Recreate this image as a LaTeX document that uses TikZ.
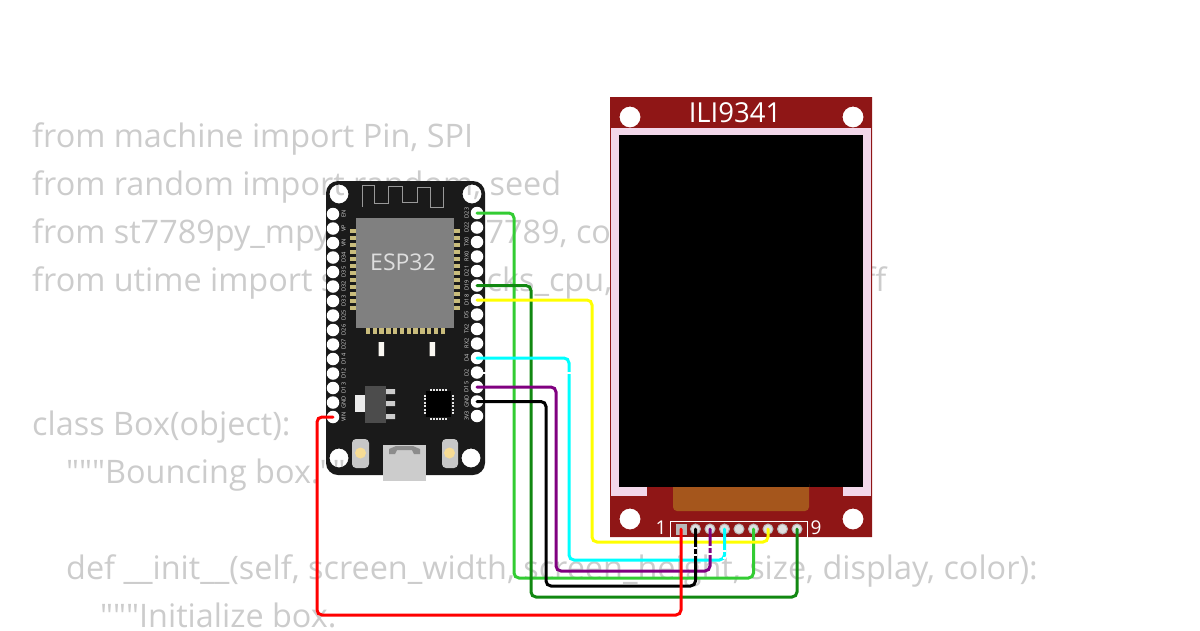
\documentclass[tikz,border=0pt]{standalone}
\usepackage{fontspec}
\setmainfont{Open Sans}
\newfontfamily\codefont{Open Sans}
\definecolor{codegray}{HTML}{CCCCCC}
\definecolor{boardblack}{HTML}{1A1A1A}
\definecolor{modgray}{HTML}{808080}
\definecolor{padgold}{HTML}{C9BC7C}
\definecolor{lcdred}{HTML}{8F1616}
\definecolor{lcdpink}{HTML}{F2D7EA}
\definecolor{flexorange}{HTML}{A5561C}
\definecolor{wiregreen}{HTML}{33CC33}
\definecolor{wiredark}{HTML}{118811}
\definecolor{wirepurple}{HTML}{800080}
\definecolor{wirecyan}{HTML}{00FFFF}
\definecolor{wireyellow}{HTML}{FFFF00}
\definecolor{wirered}{HTML}{FF0000}
\definecolor{btncream}{HTML}{F7DC95}
\tikzset{
  codeline/.style={anchor=base west,inner sep=0pt,text=codegray,font=\codefont\fontsize{32.4}{32.4}\selectfont},
  espin/.style={circle,fill=white,inner sep=0pt,minimum size=12.5pt},
  esplabel/.style={rotate=90,inner sep=0pt,text=white!85!black,font=\fontsize{5.6}{5.6}\selectfont},
  lcdpin/.style={circle,fill=white!88!black,draw=white!72!black,line width=1pt,inner sep=0pt,minimum size=10pt},
  wire/.style={line width=3pt,rounded corners=5pt,line cap=round},
  wiregap/.style={white,line width=3.2pt,dash pattern=on 1.5pt off 5.5pt},
  padv/.style={fill=padgold,minimum width=6pt,minimum height=4.4pt,inner sep=0pt},
  padh/.style={fill=padgold,minimum width=4.4pt,minimum height=6pt,inner sep=0pt},
  qfnpad/.style={fill=white!90!black,inner sep=0pt,minimum width=2pt,minimum height=2pt}
}
\begin{document}
\begin{tikzpicture}[x=1pt,y=-1pt]
  \useasboundingbox (0,0) rectangle (1200,630);
  % code behind the parts
  \node[codeline] (code1) at (32,147) {from machine import Pin, SPI};
  \node[codeline] (code2) at (32,195) {from random import random, seed};
  \node[codeline] (code3) at (32,243) {from st7789py\_mpy import ST7789, color565};
  \node[codeline] (code4) at (32,291) {from utime import sleep\_us, ticks\_cpu, ticks\_us, ticks\_diff};
  \node[codeline] (code5) at (32,435) {class Box(object):};
  \node[codeline] (code6) at (66,483) {"""Bouncing box."""};
  \node[codeline] (code7) at (66,579) {def \_\_init\_\_(self, screen\_width, screen\_height, size, display, color):};
  \node[codeline] (code8) at (100,627) {"""Initialize box.};
  % esp32 board
  \fill[boardblack,even odd rule,rounded corners=12pt] (326,181) rectangle (485,475)
    [sharp corners] (339,194) circle (9.5) (472,194) circle (9.5) (339,458) circle (9.5) (471,458) circle (9.5);
  \draw[white!60!black,line width=.8pt] (362,207) -- (362,185) -- (374,185) -- (374,203) -- (388,203)
    -- (388,186) -- (402,186) -- (402,202) -- (417,202) -- (417,187) -- (430,187) -- (430,207) -- (443,207) -- (443,187);
  \fill[modgray] (356,218) rectangle (454,328);
  \node[text=white!87!black,font=\fontsize{23}{23}\selectfont] (esplbl) at (403,262) {ESP32};
  \foreach \i in {0,...,11} {
    \node[padv] (padl\i) at (353,{231+7*\i}) {};
    \node[padv] (padr\i) at (457,{231+7*\i}) {};
    \node[padh] (padb\i) at ({368+6.8*\i},331) {};
  }
  \fill[white!90!padgold] (378.5,342) rectangle (384,356) (429.5,342) rectangle (435,356);
  % regulator
  \fill[white!92!black] (355,395) rectangle (366,412);
  \fill[white!30!black] (365,386) rectangle (386,423);
  \fill[white!80!black] (386,389) rectangle (395,394) (386,401) rectangle (395,406) (386,414) rectangle (395,419);
  % qfn chip
  \fill[black] (426,391) rectangle (451,417);
  \foreach \i in {0,...,5} {
    \node[qfnpad] (qt\i) at ({431+3*\i},389.5) {};
    \node[qfnpad] (qb\i) at ({431+3*\i},418.5) {};
    \node[qfnpad] (ql\i) at (424.5,{396+3.4*\i}) {};
    \node[qfnpad] (qr\i) at (452.5,{396+3.4*\i}) {};
  }
  % buttons
  \fill[white!78!black,rounded corners=4pt] (352,439) rectangle (369,468) (442,439) rectangle (458,468);
  \fill[btncream] (360.5,453) circle (5.5) (449.5,453) circle (5.5);
  % usb
  \fill[white!80!black] (383,445) rectangle (426,481);
  \fill[white!55!black] (389,449) -- (396,446) -- (413,446) -- (420,449) -- (420,454) -- (414,454)
    -- (412,450) -- (397,450) -- (395,454) -- (389,454) -- cycle;
  % pins
  \foreach \name/\lab [count=\i from 0] in {en/EN,vp/VP,vn/VN,d34/D34,d35/D35,d32/D32,d33/D33,d25/D25,d26/D26,d27/D27,d14/D14,d12/D12,d13/D13,gndl/GND,vin/VIN} {
    \node[espin] (\name) at (333,{214+14.5*\i}) {};
    \node[esplabel] (\name lbl) at (343.5,{214+14.5*\i}) {\lab};
  }
  \foreach \name/\lab [count=\i from 0] in {d23/D23,d22/D22,tx0/TX0,rx0/RX0,d21/D21,d19/D19,d18/D18,d5/D5,tx2/TX2,rx2/RX2,d4/D4,d2/D2,d15/D15,gndr/GND,vvv/3V3} {
    \node[espin] (\name) at (477,{213+14.5*\i}) {};
    \node[esplabel] (\name lbl) at (466.5,{213+14.5*\i}) {\lab};
  }
  \draw[white,line width=2pt] (d2.center) -- ++(9,0);
  % ili9341 display
  \fill[lcdred,even odd rule] (610,97) rectangle (872,537)
    (630,117) circle (10.5) (853,117) circle (10.5) (630,519) circle (10.5) (853,519) circle (10.5);
  \fill[lcdpink] (611,128) rectangle (871,496);
  \fill[lcdred] (647,487) rectangle (843,496);
  \fill[black] (619,135) rectangle (863,487);
  \fill[flexorange,rounded corners=4pt] (673,480) rectangle (809,511);
  \fill[black] (673,470) rectangle (809,487);
  \node[text=white,font=\fontsize{27.5}{27.5}\selectfont] (lcdlbl) at (735,113) {ILI9341};
  \draw[white,line width=1pt] (670.5,521) rectangle (807,537);
  \node[text=white,font=\fontsize{19}{19}\selectfont] (one) at (661,528) {1};
  \node[text=white,font=\fontsize{19}{19}\selectfont] (nine) at (816,528) {9};
  \node[fill=white!72!black,inner sep=0pt,minimum size=11pt] (lcd1) at (681,529) {};
  \foreach \i in {2,...,9}
    \node[lcdpin] (lcd\i) at ({681+14.5*(\i-1)},529) {};
  % wires
  \draw[wire,wiregreen] (d23.center) -| (514,578) -| (lcd6.center);
  \draw[wire,wiredark] (d19.center) -| (531,597) -| (lcd9.center);
  \draw[wire,wireyellow] (d18.center) -| (592,542) -| (lcd7.center);
  \draw[wire,wirecyan] (d4.center) -| (569,560) -| (lcd4.center);
  \draw[wire,wirepurple] (d15.center) -| (556,571) -| (lcd3.center);
  \draw[wire,black] (gndr.center) -| (546,586) -| (lcd2.center);
  \draw[wiregap] (lcd2.center) ++(0,18) -- ++(0,9);
  \draw[wiregap] (lcd3.center) ++(0,17) -- ++(0,9);
  \draw[wiregap] (lcd4.center) ++(0,21) -- ++(0,9);
  \draw[white,line width=3.2pt] (569,372) -- (569,373.5);
  \draw[wire,wirered] (vin.center) -| (317,615) -| (lcd1.center);
\end{tikzpicture}
\end{document}
